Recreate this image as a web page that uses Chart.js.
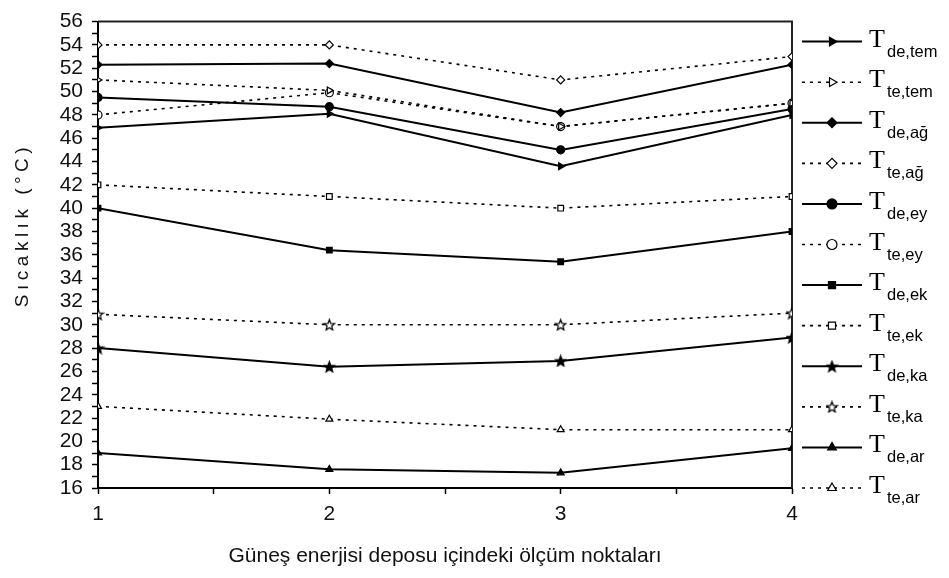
<!DOCTYPE html>
<html>
<head>
<meta charset="utf-8">
<script src="https://cdn.jsdelivr.net/npm/chart.js@4"></script>
<style>
body { margin: 0; background: #fff; }
#wrap { width: 949px; height: 578px; }
</style>
</head>
<body>
<div id="wrap"><canvas id="lineChart"></canvas></div>
<script>
// measuring points along the tank
var points = [1, 2, 3, 4];

// temperatures (°C)
var deTem = [46.9, 48.1, 43.6, 48.0];
var teTem = [51.0, 50.1, 47.0, 49.0];
var deAg  = [52.3, 52.4, 48.2, 52.3];
var teAg  = [54.0, 54.0, 51.0, 53.0];
var deEy  = [49.5, 48.7, 45.0, 48.5];
var teEy  = [48.0, 49.9, 47.0, 49.0];
var deEk  = [40.0, 36.4, 35.4, 38.0];
var teEk  = [42.0, 41.0, 40.0, 41.0];
var deKa  = [28.0, 26.4, 26.9, 28.9];
var teKa  = [30.9, 30.0, 30.0, 31.0];
var deAr  = [19.0, 17.6, 17.3, 19.4];
var teAr  = [23.0, 21.9, 21.0, 21.0];

var subs = ['de,tem', 'te,tem', 'de,ağ', 'te,ağ', 'de,ey', 'te,ey',
            'de,ek', 'te,ek', 'de,ka', 'te,ka', 'de,ar', 'te,ar'];

var yTitle = 'Sıcaklık (°C)';
var xTitle = 'Güneş enerjisi deposu içindeki ölçüm noktaları';

function starImg(filled) {
    var c = document.createElement('canvas');
    c.width = 13; c.height = 13;
    var g = c.getContext('2d');
    g.beginPath();
    for (var k = 0; k < 10; k++) {
        var r = k % 2 ? 2.4 : 5.6;
        var a = -Math.PI / 2 + k * Math.PI / 5;
        g.lineTo(6.5 + r * Math.cos(a), 7 + r * Math.sin(a));
    }
    g.closePath();
    g.fillStyle = filled ? '#000' : '#fff';
    g.fill();
    g.strokeStyle = '#000';
    g.lineWidth = 1.2;
    g.stroke();
    return c;
}

function ds(idx, values, dashed, style, filled, rot) {
    return {
        label: 'T' + subs[idx],
        data: points.map(function (p, i) { return { x: p, y: values[i] }; }),
        borderColor: '#000',
        borderWidth: dashed ? 1.6 : 2,
        borderDash: dashed ? [3, 5] : [],
        pointStyle: style,
        pointRotation: rot || 0,
        pointRadius: 4,
        pointBackgroundColor: filled ? '#000' : '#fff',
        pointBorderColor: '#000',
        pointBorderWidth: 1.2,
        tension: 0
    };
}

var sideLegend = {
    id: 'sideLegend',
    beforeDatasetsDraw: function (chart) {
        var ctx = chart.ctx, a = chart.chartArea;
        ctx.save();
        ctx.strokeStyle = '#222';
        ctx.lineWidth = 2;
        ctx.beginPath();
        ctx.moveTo(a.left, a.top);
        ctx.lineTo(a.right, a.top);
        ctx.lineTo(a.right, a.bottom);
        ctx.stroke();
        ctx.restore();
    },
    afterDraw: function (chart) {
        var ctx = chart.ctx, a = chart.chartArea;
        var step = (a.bottom - a.top - 20) / 11;
        chart.data.datasets.forEach(function (d, i) {
            var y = a.top + 20 + i * step;
            var x0 = a.right + 10;
            ctx.save();
            ctx.strokeStyle = '#000';
            ctx.lineWidth = d.borderWidth;
            ctx.setLineDash(d.borderDash);
            ctx.beginPath();
            ctx.moveTo(x0, y);
            ctx.lineTo(x0 + 60, y);
            ctx.stroke();
            ctx.setLineDash([]);
            ctx.fillStyle = d.pointBackgroundColor;
            ctx.lineWidth = d.pointBorderWidth;
            Chart.helpers.drawPoint(ctx, {
                pointStyle: d.pointStyle, rotation: d.pointRotation,
                radius: 5, borderWidth: d.pointBorderWidth
            }, x0 + 30, y);
            ctx.fillStyle = '#000';
            ctx.textBaseline = 'alphabetic';
            ctx.font = '26px "Liberation Serif"';
            ctx.fillText('T', x0 + 67, y + 5);
            ctx.font = '16.5px "Liberation Sans"';
            ctx.fillText(subs[i], x0 + 85, y + 15);
            ctx.restore();
        });

        // y axis title
        ctx.save();
        ctx.translate(28, 225);
        ctx.rotate(-Math.PI / 2);
        ctx.fillStyle = '#111';
        ctx.font = '19px "Liberation Sans"';
        if ('letterSpacing' in ctx) ctx.letterSpacing = '4.5px';
        ctx.textAlign = 'center';
        ctx.textBaseline = 'alphabetic';
        ctx.fillText(yTitle, 0, 0);
        ctx.restore();
    }
};

var ctx = document.getElementById('lineChart').getContext('2d');
var myChart = new Chart(ctx, {
    type: 'line',
    data: {
        datasets: [
            ds(0, deTem, false, 'triangle', true, 90),
            ds(1, teTem, true, 'triangle', false, 90),
            ds(2, deAg, false, 'rectRot', true),
            ds(3, teAg, true, 'rectRot', false),
            ds(4, deEy, false, 'circle', true),
            ds(5, teEy, true, 'circle', false),
            ds(6, deEk, false, 'rect', true),
            ds(7, teEk, true, 'rect', false),
            ds(8, deKa, false, starImg(true), true),
            ds(9, teKa, true, starImg(false), false),
            ds(10, deAr, false, 'triangle', true),
            ds(11, teAr, true, 'triangle', false)
        ]
    },
    options: {
        responsive: true,
        maintainAspectRatio: false,
        animation: false,
        layout: { padding: { top: 18, right: 157, left: 0, bottom: 0 } },
        plugins: {
            legend: { display: false },
            tooltip: { enabled: false }
        },
        scales: {
            x: {
                type: 'linear',
                min: 1,
                max: 4,
                afterFit: function (s) { s.height = 90; },
                border: { color: '#000', width: 2 },
                grid: { drawOnChartArea: false, color: '#000', tickLength: 6, tickWidth: 1.5 },
                ticks: {
                    stepSize: 0.5,
                    autoSkip: false,
                    maxRotation: 0,
                    color: '#111',
                    padding: 8,
                    font: { family: 'Liberation Sans', size: 21 },
                    callback: function (v) { return Number.isInteger(v) ? v : ''; }
                },
                title: {
                    display: true,
                    text: xTitle,
                    color: '#111',
                    font: { family: 'Liberation Sans', size: 21 },
                    padding: { top: 0, bottom: 9 }
                }
            },
            y: {
                min: 16,
                max: 56,
                afterFit: function (s) { s.width = 98; },
                border: { color: '#000', width: 2 },
                grid: { drawOnChartArea: false, color: '#000', tickLength: 6, tickWidth: 1.5 },
                ticks: {
                    stepSize: 1,
                    autoSkip: false,
                    color: '#111',
                    padding: 9,
                    font: { family: 'Liberation Sans', size: 21 },
                    callback: function (v) { return v % 2 === 0 ? v : ''; }
                }
            }
        }
    },
    plugins: [sideLegend]
});
</script>
</body>
</html>
